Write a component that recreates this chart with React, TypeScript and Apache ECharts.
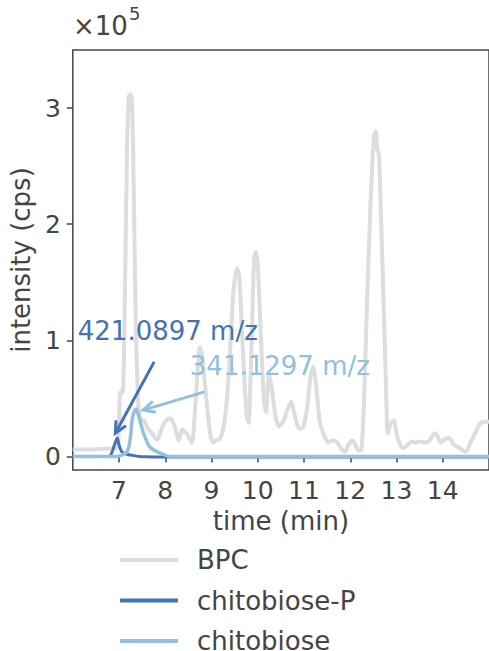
import React, { useEffect, useRef } from "react";
import * as echarts from "echarts";

// time (min) and intensity (x1e5 cps)
const bpcTime = [6.0, 6.3, 6.6, 6.9, 6.97, 6.99, 7.02, 7.05, 7.08, 7.12, 7.17, 7.21, 7.25, 7.28, 7.31, 7.36, 7.41, 7.46, 7.54, 7.62, 7.71, 7.82, 7.93, 8.02, 8.11, 8.21, 8.29, 8.36, 8.46, 8.57, 8.66, 8.75, 8.8, 8.89, 8.97, 9.03, 9.1, 9.18, 9.28, 9.38, 9.47, 9.55, 9.6, 9.68, 9.76, 9.8, 9.86, 9.92, 9.96, 10.0, 10.06, 10.13, 10.18, 10.24, 10.3, 10.38, 10.46, 10.55, 10.64, 10.72, 10.8, 10.9, 10.98, 11.06, 11.14, 11.2, 11.26, 11.34, 11.42, 11.52, 11.6, 11.7, 11.8, 11.88, 11.96, 12.04, 12.1, 12.18, 12.24, 12.3, 12.36, 12.44, 12.51, 12.55, 12.58, 12.62, 12.67, 12.73, 12.78, 12.81, 12.87, 12.94, 13.0, 13.05, 13.14, 13.24, 13.32, 13.42, 13.52, 13.62, 13.72, 13.82, 13.88, 13.96, 14.05, 14.14, 14.24, 14.34, 14.44, 14.5, 14.6, 14.7, 14.8, 14.9, 15.0];
const bpcValue = [0.06, 0.06, 0.065, 0.07, 0.08, 0.2, 0.54, 0.56, 0.55, 1.2, 2.6, 3.1, 3.12, 3.05, 2.5, 1.2, 0.5, 0.32, 0.31, 0.24, 0.2, 0.14, 0.25, 0.31, 0.33, 0.25, 0.14, 0.23, 0.2, 0.12, 0.5, 0.94, 0.85, 0.49, 0.2, 0.12, 0.14, 0.15, 0.3, 0.75, 1.4, 1.62, 1.55, 0.9, 0.35, 0.29, 0.9, 1.7, 1.76, 1.65, 1.1, 0.5, 0.38, 0.7, 0.6, 0.35, 0.26, 0.3, 0.4, 0.47, 0.35, 0.24, 0.25, 0.4, 0.68, 0.77, 0.62, 0.3, 0.2, 0.12, 0.14, 0.13, 0.07, 0.04, 0.1, 0.14, 0.11, 0.05, 0.06, 0.5, 1.3, 2.2, 2.75, 2.8, 2.65, 2.6, 2.0, 1.2, 0.5, 0.2, 0.28, 0.31, 0.2, 0.13, 0.07, 0.1, 0.13, 0.12, 0.13, 0.12, 0.14, 0.2, 0.18, 0.12, 0.15, 0.16, 0.1, 0.08, 0.05, 0.04, 0.12, 0.2, 0.28, 0.3, 0.3];

const chitoPTime = [6.0, 6.5, 6.78, 6.84, 6.9, 6.96, 7.0, 7.06, 7.17, 7.3, 7.46, 8.0, 9.0, 10.0, 11.0, 12.0, 13.0, 14.0, 15.0];
const chitoPValue = [0.0, 0.0, 0.0, 0.03, 0.1, 0.16, 0.1, 0.04, 0.02, 0.01, 0.0, -0.005, -0.005, -0.005, -0.005, -0.005, -0.005, -0.005, -0.005];

const chitoTime = [6.0, 6.9, 7.0, 7.1, 7.17, 7.21, 7.25, 7.28, 7.33, 7.37, 7.41, 7.47, 7.53, 7.6, 7.67, 7.78, 7.89, 8.1, 9.0, 10.0, 11.0, 12.0, 13.0, 14.0, 15.0];
const chitoValue = [0.0, 0.0, 0.005, 0.02, 0.04, 0.08, 0.18, 0.31, 0.39, 0.41, 0.37, 0.28, 0.2, 0.13, 0.08, 0.05, 0.03, 0.0, 0.0, 0.0, 0.0, 0.0, 0.0, 0.0, 0.0];

const xTicks = [7, 8, 9, 10, 11, 12, 13, 14];
const yTicks = [0, 1, 2, 3];
const seriesNames = ["BPC", "chitobiose-P", "chitobiose"];
const colors = ["#dddddd", "#4473b5", "#92c0dd"];

const annotations = [
  { label: "421.0897 m/z", textAt: [6.107, 1.079], from: [7.76, 0.815], to: [6.92, 0.2], color: "#4473b5" },
  { label: "341.1297 m/z", textAt: [8.53, 0.776], from: [8.85, 0.557], to: [7.52, 0.4], color: "#92c0dd" },
];

const FONT = "DejaVu Sans";
const TEXT = "#444444";

function zip(t: number[], v: number[]) {
  return t.map((x, i) => [x, v[i]]);
}

export default function App() {
  const ref = useRef<HTMLDivElement>(null);
  useEffect(() => {
    if (!ref.current) return;
    const chart = echarts.init(ref.current, null, { renderer: "svg" });
    const option: any = {
      animation: false,
      textStyle: { fontFamily: FONT },
      grid: { left: 72, top: 50, right: -3, bottom: 181, show: true, borderColor: TEXT, borderWidth: 1.5, backgroundColor: "transparent" },
      xAxis: {
        type: "value",
        min: 6,
        max: 15,
        name: "time (min)",
        nameLocation: "middle",
        nameGap: 38,
        nameTextStyle: { fontSize: 26, color: TEXT, fontFamily: FONT },
        axisLine: { show: false },
        splitLine: { show: false },
        axisTick: { show: true, inside: false, length: 6, customValues: xTicks, lineStyle: { color: TEXT, width: 1.5 } },
        axisLabel: { customValues: xTicks, fontSize: 25, color: TEXT, margin: 8, fontFamily: FONT },
      },
      yAxis: {
        type: "value",
        min: -0.116,
        max: 3.5,
        name: "intensity (cps)",
        nameLocation: "middle",
        nameGap: 24,
        nameTextStyle: { fontSize: 26, color: TEXT, fontFamily: FONT },
        axisLine: { show: false },
        splitLine: { show: false },
        axisTick: { show: true, inside: false, length: 6, customValues: yTicks, lineStyle: { color: TEXT, width: 1.5 } },
        axisLabel: { customValues: yTicks, fontSize: 25, color: TEXT, margin: 12, fontFamily: FONT },
      },
      legend: {
        orient: "vertical",
        left: 120,
        top: 547,
        height: 120,
        padding: 0,
        icon: "rect",
        itemWidth: 58,
        itemHeight: 4,
        itemGap: 14.5,
        data: seriesNames,
        textStyle: { fontSize: 26, color: TEXT, fontFamily: FONT, lineHeight: 24, padding: [0, 0, 0, 14] },
      },
      series: [
        { name: seriesNames[0], type: "line", data: zip(bpcTime, bpcValue), showSymbol: false, smooth: 0.25, color: colors[0], lineStyle: { width: 4, color: colors[0] }, z: 1 },
        { name: seriesNames[1], type: "line", data: zip(chitoPTime, chitoPValue), showSymbol: false, smooth: 0.25, color: colors[1], lineStyle: { width: 3, color: colors[1] }, z: 2 },
        { name: seriesNames[2], type: "line", data: zip(chitoTime, chitoValue), showSymbol: false, smooth: 0.25, color: colors[2], lineStyle: { width: 3.5, color: colors[2] }, z: 3 },
      ],
    };
    chart.setOption(option);

    const px = (p: number[]) => chart.convertToPixel({ gridIndex: 0 }, p) as number[];
    const graphic: any[] = [
      { type: "text", left: 73, top: 13, style: { text: "×10", fontSize: 26, fill: TEXT, fontFamily: FONT } },
      { type: "text", left: 129, top: 4, style: { text: "5", fontSize: 18, fill: TEXT, fontFamily: FONT } },
    ];
    annotations.forEach((a) => {
      const tp = px(a.textAt);
      const f = px(a.from);
      const t = px(a.to);
      graphic.push({ type: "text", x: tp[0], y: tp[1], style: { text: a.label, fontSize: 26, fill: a.color, fontFamily: FONT, textAlign: "left", textVerticalAlign: "middle" }, z: 10 });
      graphic.push({ type: "line", shape: { x1: f[0], y1: f[1], x2: t[0], y2: t[1] }, style: { stroke: a.color, lineWidth: 3 }, z: 10 });
      const ang = Math.atan2(t[1] - f[1], t[0] - f[0]);
      const L = 13, W = 0.45;
      graphic.push({
        type: "polyline",
        shape: { points: [
          [t[0] - L * Math.cos(ang - W), t[1] - L * Math.sin(ang - W)],
          [t[0], t[1]],
          [t[0] - L * Math.cos(ang + W), t[1] - L * Math.sin(ang + W)],
        ] },
        style: { stroke: a.color, lineWidth: 3, fill: "none", lineJoin: "miter" },
        z: 10,
      });
    });
    chart.setOption({ graphic });
    return () => chart.dispose();
  }, []);
  return <div ref={ref} style={{ width: 489, height: 651, position: "absolute", left: 0, top: 0 }} />;
}
